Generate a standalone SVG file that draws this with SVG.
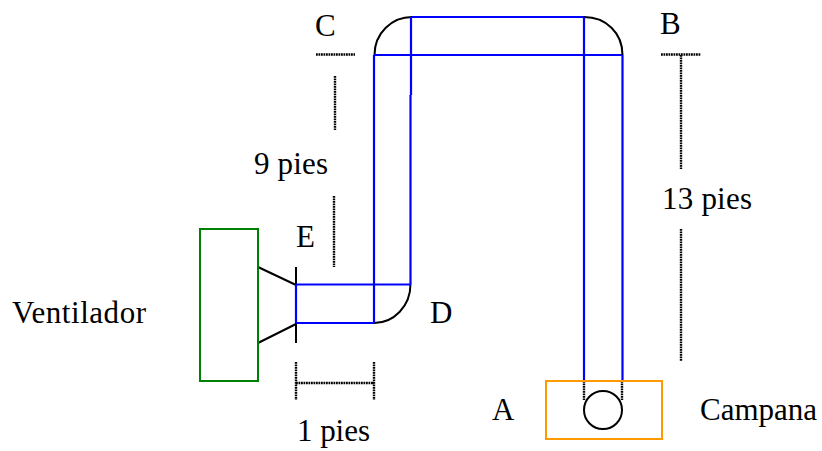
<svg xmlns="http://www.w3.org/2000/svg" width="822" height="451" viewBox="0 0 822 451">
<style>
.t{font-family:"Liberation Serif","Times New Roman",serif;font-size:31px;fill:#000}
.d{fill:none;stroke:#00f;stroke-width:2.200}
.k{fill:none;stroke:#000;stroke-width:2}
.s{fill:none;stroke:#000;stroke-width:2.400;stroke-dasharray:1.800 .7}
</style>
<rect width="822" height="451" fill="#fff"/>
<g id="connectors">
<path class="k" d="M374.500 55C374.500 33 392 17 412 17M584 17C606 17 622.500 33 622.500 55M410.500 284C410.500 306 394 323 374 323"/>
<path class="k" d="M258 267L296 285M258 343L296 324M296 267V343"/>
<path class="d" d="M412 17H584M374 55H622M374 55V284M411 17V95M410.500 95V284M584 17V115M622.500 55V381M296 284.500H411M296 323H374M296 284V323M374 284V323M584 115V381"/>
<path class="s" d="M316 54.500H355M661 54.500H701M681 55V169M681 229V361M335 76V130M334 196V267M296 362V400M374 362V400M296 383H374M584 381V400M622 381V400"/>
</g>
<g id="ventilador"><rect x="200" y="229" width="58" height="152" fill="none" stroke="#008000" stroke-width="2"/><text class="t" x="12" y="323" textLength="134">Ventilador</text></g>
<g id="campana"><rect x="546" y="381" width="116" height="58" fill="none" stroke="#f90" stroke-width="2"/><circle cx="603" cy="410" r="19" fill="none" stroke="#000" stroke-width="2"/><text class="t" x="700" y="420" textLength="117">Campana</text></g>
<g id="labels">
<text class="t" x="315" y="36">C</text>
<text class="t" x="660" y="34">B</text>
<text class="t" x="296" y="247">E</text>
<text class="t" x="430" y="323">D</text>
<text class="t" x="492" y="420">A</text>
<text class="t" x="254" y="174" textLength="74">9 pies</text>
<text class="t" x="662" y="209" textLength="90">13 pies</text>
<text class="t" x="297" y="441" textLength="73">1 pies</text>
</g>
</svg>
